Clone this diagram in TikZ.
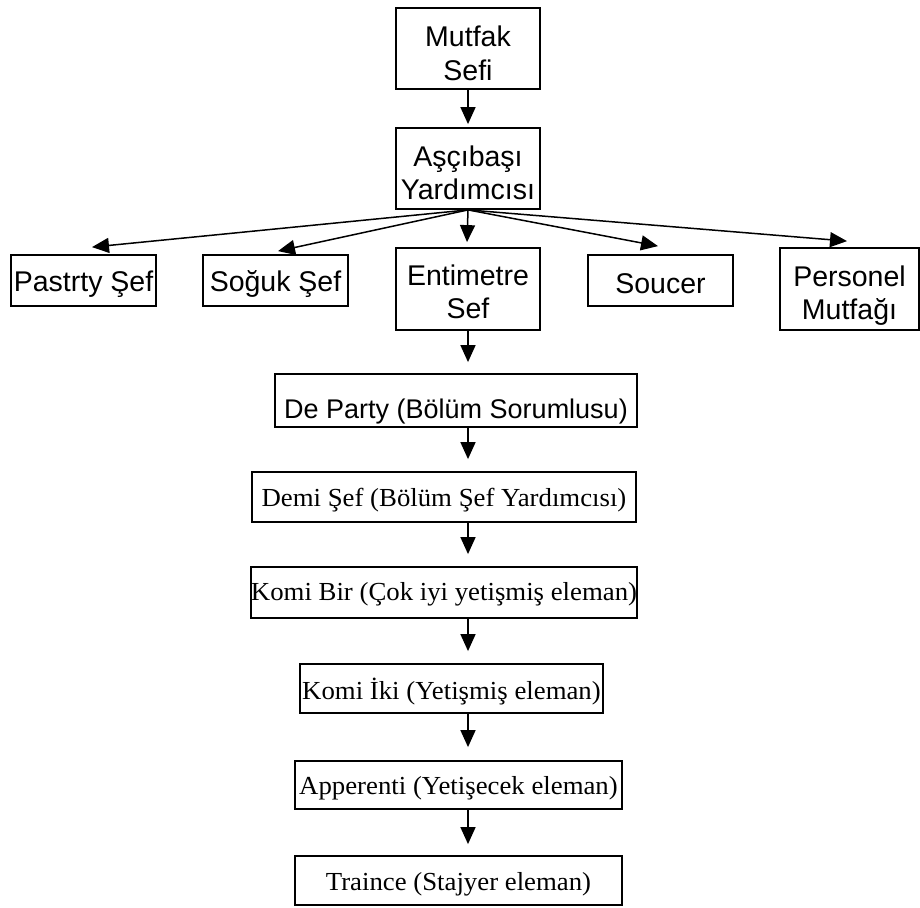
\documentclass[tikz,border=0pt]{standalone}
\usepackage{fontspec}
\setmainfont{Liberation Serif}
\setsansfont{Liberation Sans}
\newfontfamily\serifwide[FakeStretch=1.03]{Liberation Serif}
\usetikzlibrary{arrows.meta}
\tikzset{
    x=1pt, y=1pt,
    sans/.style ={rectangle, draw, line width=1.8pt, inner sep=0pt, align=center,
                  text depth=0pt, font=\sffamily\fontsize{28.5}{33}\selectfont},
    serif/.style ={sans, text height=19pt, font=\serifwide\fontsize{26}{30}\selectfont},
    wh/.style 2 args ={minimum width=#1pt, minimum height=#2pt}
    }

\begin{document}
\begin{tikzpicture}[
      > = {Triangle[length=17pt, width=15pt]}, % filled head
      ->,
      line width=1.5pt
    ]
    \useasboundingbox (0,0) rectangle (920,-907);

    \node[sans, wh={144}{81}, text height=63pt] (1) at (468,-48.5) {Mutfak\\Sefi};
    \node[sans, wh={144}{81}, text height=62pt] (2) at (468,-168.5) {Aşçıbaşı\\Yardımcısı};

    \node[sans, wh={145}{51}, text height=21pt] (3) at (83.5,-280.5) {Pastrty Şef};
    \node[sans, wh={145}{51}, text height=21pt] (4) at (275.5,-280.5) {Soğuk Şef};
    \node[sans, wh={144}{82}, text height=59pt] (5) at (468,-289) {Entimetre\\Sef};
    \node[sans, wh={145}{51}, text height=25pt] (6) at (660.5,-280.5) {Soucer};
    \node[sans, wh={139}{82}, text height=60pt] (7) at (849.5,-289) {Personel\\Mutfağı};

    \node[sans, wh={362}{53}, text height=35pt,
          font=\sffamily\fontsize{27}{33}\selectfont] (8) at (456,-400.5) {De Party (Bölüm Sorumlusu)};
    \node[serif, wh={384}{50}] (9) at (444,-497) {Demi Şef (Bölüm Şef Yardımcısı)};
    \node[serif, wh={384}{51}, text height=16pt] (10) at (444,-592.5) {Komi Bir (Çok iyi yetişmiş eleman)};
    \node[serif, wh={303}{49}, text height=21pt] (11) at (451.5,-688.5) {Komi İki (Yetişmiş eleman)};
    \node[serif, wh={327}{48}] (12) at (458.5,-785) {Apperenti (Yetişecek eleman)};
    \node[serif, wh={327}{49}] (13) at (458.5,-880.5) {Traince (Stajyer eleman)};

    \path (1.south) edge[shorten >=3pt] (2.north);

    \path (2.south) edge ([shift={(8.5,7)}]3.north);
    \path (2.south) edge ([shift={(2.5,3)}]4.north);
    \path (2.south) edge ([shift={(-1,5)}]5.north);
    \path (2.south) edge ([shift={(-2.5,8)}]6.north);
    \path (2.south) edge ([shift={(-2.5,6)}]7.north);

    \path (5.south) edge[shorten >=11pt] (8.north -| 5);
    \path (8.south -| 5) edge[shorten >=12pt] (9.north -| 5);
    \path (9.south -| 5) edge[shorten >=12pt] (10.north -| 5);
    \path (10.south -| 5) edge[shorten >=12pt] (11.north -| 5);
    \path (11.south -| 5) edge[shorten >=13pt] (12.north -| 5);
    \path (12.south -| 5) edge[shorten >=11pt] (13.north -| 5);
\end{tikzpicture}
\end{document}
